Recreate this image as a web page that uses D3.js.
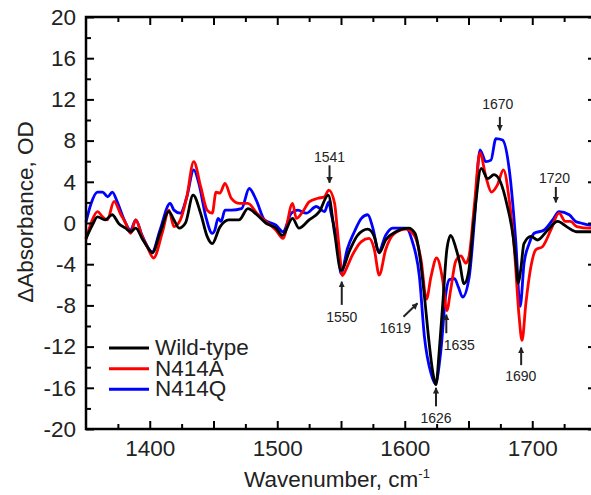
<!DOCTYPE html>
<html>
<head>
<meta charset="utf-8">
<script src="https://cdn.jsdelivr.net/npm/d3@7"></script>
<style>
  body { margin: 0; background: #fff; }
  svg { display: block; font-family: "Liberation Sans", Arial, sans-serif; }
</style>
</head>
<body>
<svg id="chart" width="591" height="495"></svg>
<script>
// data: [wavenumber, delta absorbance]
let wildType = [
  [1350,-1.5],[1355,-0.2],[1359,0.6],[1365,0.3],[1370.5,0.8],[1376,-0.1],[1381,-0.5],[1385,-0.85],
  [1389,-0.5],[1394,-1.5],[1398,-2.3],[1402,-2.9],[1408,-1.0],[1415,1.1],[1419,0.3],[1423,-0.5],
  [1428,0],[1434,2.7],[1440,0.9],[1445,-1.3],[1449,-2.0],[1455,-0.4],[1462,0.3],[1470,0.3],
  [1477,1.4],[1484,0.8],[1491,0],[1499,-0.5],[1504,-1.2],[1512,0.45],[1517,-0.5],[1525,0.3],
  [1533,1.1],[1540,2.7],[1545,-1.0],[1550,-4.6],[1557,-2.6],[1563,-1.2],[1571,-0.6],[1576,-1.3],
  [1580,-2.9],[1585,-1.65],[1593,-0.85],[1603,-0.5],[1608,-1.0],[1612,-3.4],[1615.5,-7.2],
  [1619,-11.5],[1622,-14.5],[1624.5,-15.7],[1627,-12.5],[1630,-7.5],[1633,-2.6],[1636,-1.2],
  [1640,-2.4],[1643,-3.8],[1646.5,-5.9],[1650,-4.8],[1654.5,0.6],[1660,5.3],[1665,4.3],
  [1670,4.7],[1675,4.0],[1680.5,1.6],[1685,-1.3],[1687,-3.5],[1689,-5.85],[1691,-4.5],
  [1693.5,-2.0],[1699,-1.3],[1704,-1.65],[1712,-0.7],[1720,0.15],[1727.5,-0.4],[1735,-0.85],
  [1745,-0.85],[1750,-0.85]
];

let n414a = [
  [1350,-1.6],[1354,0.0],[1359,1.1],[1363,0.6],[1366.7,0.3],[1372,2.1],[1377,0.9],[1381,0],
  [1385,-1.0],[1389,0.3],[1394,-1.3],[1398,-2.3],[1403,-3.4],[1410,-0.85],[1415,1.25],[1419,-0.35],
  [1424,0.3],[1429,2.5],[1434.5,5.95],[1440,3.5],[1445,1.25],[1449,0.95],[1452,3.0],[1455,2.9],
  [1459,3.85],[1464,2.4],[1470.5,1.9],[1477,1.9],[1484,0.95],[1491,0.15],[1499,-0.7],[1504.5,-1.5],
  [1512,1.9],[1515,0.45],[1520,1.1],[1525,2.05],[1532,2.4],[1537,2.55],[1540.5,3.2],[1545,1.9],
  [1547,-0.5],[1549,-3.0],[1551,-5.1],[1555,-4.2],[1559,-3.1],[1566,-1.8],[1572,-1.5],[1576,-2.5],
  [1580,-5.05],[1585,-2.6],[1592,-1.0],[1601,-0.6],[1607.5,-1.2],[1612.8,-3.6],[1617,-7.4],
  [1620.6,-5.2],[1625,-3.4],[1629.7,-5.5],[1633,-8.5],[1636,-6.5],[1640,-3.7],[1644,-3.2],
  [1648,-3.9],[1650.6,-3.1],[1654.5,1.6],[1659,6.8],[1663.6,4.5],[1668,3.0],[1672.7,3.7],
  [1677.4,5.15],[1682,2.2],[1686,-2.6],[1689.7,-9.1],[1692,-11.4],[1695,-7.8],[1699,-4.2],
  [1702.8,-2.6],[1708,-2.3],[1714.5,-0.7],[1721,0.95],[1726,0.15],[1730,0.15],[1735,-0.35],
  [1745,-0.5],[1750,-0.5]
];

let n414q = [
  [1350,0.1],[1354,1.9],[1359,3.0],[1363,3.0],[1367,2.55],[1370.6,3.0],[1374.5,2.05],[1380,0.3],
  [1385,-0.7],[1389,0.3],[1394,-1.2],[1402,-2.8],[1408,-0.7],[1416,1.9],[1419,1.25],[1424,0.95],
  [1429,2.5],[1434.5,5.15],[1438.5,3.85],[1444,0.6],[1449,-1.0],[1451,-0.7],[1453.6,0.45],
  [1456,0.15],[1459,1.25],[1464,1.25],[1472,1.4],[1478,3.35],[1483.6,2.2],[1490,0.3],[1499,-0.2],
  [1504.5,-0.85],[1511,0.95],[1516,1.25],[1522.8,0.95],[1530.6,1.6],[1537,1.1],[1540.5,2.05],
  [1542,1.1],[1547.5,-2.3],[1550,-4.9],[1555,-2.5],[1560.5,-0.85],[1566,0.45],[1571,0.8],
  [1575,-0.5],[1579.6,-2.8],[1585,-1.2],[1590.5,-0.5],[1601,-0.5],[1606,-1.8],[1611.5,-5.2],
  [1615.4,-11.0],[1620.6,-14.6],[1624,-15.6],[1628.4,-12.3],[1632.3,-6.8],[1635,-5.5],[1639,-5.4],
  [1642,-6.2],[1645.4,-7.2],[1650.6,-5.2],[1654.5,0],[1659,7.1],[1663.6,5.95],[1667.6,6.1],
  [1671.5,8.2],[1676.7,8.05],[1682,5.15],[1687,-1.65],[1690.5,-8.1],[1693.6,-3.9],[1697.6,-2.0],
  [1701.5,-1.0],[1709,-0.7],[1716,0.3],[1721,1.1],[1729,0.8],[1734,0.15],[1738,0],[1745,-0.2],
  [1750,-0.2]
];

let seriesNames = ["Wild-type", "N414A", "N414Q"];
let seriesColors = ["#000000", "#ff0000", "#0000ff"];

let xTicksMajor = [1400, 1450, 1500, 1550, 1600, 1650, 1700];
let xTickLabels = [1400, 1500, 1600, 1700];
let xTicksMinor = [1375, 1425, 1475, 1525, 1575, 1625, 1675, 1725];
let yTicksMajor = [-20, -16, -12, -8, -4, 0, 4, 8, 12, 16, 20];
let yTicksMinor = [-18, -14, -10, -6, -2, 2, 6, 10, 14, 18];

// peak labels: text position, arrow tail, arrow tip (data units)
let peakLabels = ["1541", "1550", "1619", "1626", "1635", "1670", "1690", "1720"];
let labelPos = [[1541,5.95],[1550.6,-9.6],[1592.7,-10.7],[1624.5,-19.4],[1642.8,-12.3],[1673,11.1],[1691,-15.3],[1717.5,3.9]];
let arrowTail = [[1541,5.6],[1550.6,-7.95],[1599,-9.1],[1624.5,-17.8],[1632.6,-10.7],[1674.6,10.3],[1691.3,-13.8],[1718.5,3.5]];
let arrowTip = [[1541,3.9],[1550.6,-5.7],[1610,-7.8],[1624.5,-16.0],[1632.6,-8.9],[1674.6,9.0],[1691.3,-12.1],[1718.5,2.0]];

let svg = d3.select("#chart");
let plotLeft = 86, plotRight = 596, plotTop = 17, plotBottom = 429;
let fontSize = 22.5;

let x = d3.scaleLinear().domain([1350, 1750]).range([plotLeft, plotRight]);
let y = d3.scaleLinear().domain([-20, 20]).range([plotBottom, plotTop]);

svg.append("rect").attr("width", 591).attr("height", 495).attr("fill", "#fff");

// data lines
let line = d3.line()
  .x(function(d) { return x(d[0]) })
  .y(function(d) { return y(d[1]) })
  .curve(d3.curveMonotoneX);

let allSeries = [wildType, n414a, n414q];
[2, 1, 0].forEach(function(i) {
  svg.append("path")
    .datum(allSeries[i])
    .attr("fill", "none")
    .attr("stroke", seriesColors[i])
    .attr("stroke-width", 2.8)
    .attr("stroke-linejoin", "round")
    .attr("d", line);
});

// axes, ticks inward
function tickAxis(axis, pos, size, values, fmt) {
  let g = svg.append("g")
    .attr("transform", pos)
    .call(axis.tickValues(values).tickSize(size).tickPadding(fmt ? 11 : 3).tickFormat(fmt || function() { return "" }));
  g.select(".domain").remove();
  g.selectAll("line").attr("stroke", "#000").attr("stroke-width", 2);
  g.selectAll("text").attr("font-size", fontSize).attr("fill", "#222").attr("font-family", "Liberation Sans, Arial, sans-serif");
  return g;
}

tickAxis(d3.axisBottom(x), "translate(0," + plotBottom + ")", -5, xTicksMinor);
tickAxis(d3.axisBottom(x), "translate(0," + plotBottom + ")", -8, xTicksMajor,
  function(d) { return xTickLabels.indexOf(d) >= 0 ? d : "" });
tickAxis(d3.axisTop(x), "translate(0," + plotTop + ")", -5, xTicksMinor);
tickAxis(d3.axisTop(x), "translate(0," + plotTop + ")", -8, xTicksMajor);

let yl = tickAxis(d3.axisLeft(y), "translate(" + plotLeft + ",0)", -8, yTicksMajor, function(d) { return d });
yl.selectAll("text").attr("x", -10);
tickAxis(d3.axisLeft(y), "translate(" + plotLeft + ",0)", -5, yTicksMinor);
tickAxis(d3.axisRight(y), "translate(" + plotRight + ",0)", -8, yTicksMajor);
tickAxis(d3.axisRight(y), "translate(" + plotRight + ",0)", -5, yTicksMinor);

svg.append("rect")
  .attr("x", plotLeft).attr("y", plotTop)
  .attr("width", plotRight - plotLeft).attr("height", plotBottom - plotTop)
  .attr("fill", "none").attr("stroke", "#000").attr("stroke-width", 2.5);

// axis titles
let xt = svg.append("text")
  .attr("x", 337).attr("y", 487)
  .attr("text-anchor", "middle")
  .attr("font-size", fontSize).attr("fill", "#222");
xt.append("tspan").text("Wavenumber, cm");
xt.append("tspan").attr("font-size", 13).attr("dy", -9).text("-1");

svg.append("text")
  .attr("transform", "translate(33,212) rotate(-90)")
  .attr("text-anchor", "middle")
  .attr("font-size", fontSize).attr("fill", "#222")
  .text("\u0394Absorbance, OD");

// legend
let legendY = [-12.0, -14.0, -16.0];
seriesNames.forEach(function(name, i) {
  let ly = y(legendY[i]) + 1.5;
  svg.append("line")
    .attr("x1", 109).attr("x2", 149)
    .attr("y1", ly).attr("y2", ly)
    .attr("stroke", seriesColors[i]).attr("stroke-width", 3);
  svg.append("text")
    .attr("x", 155).attr("y", ly + 7)
    .attr("font-size", fontSize).attr("fill", "#222")
    .text(name);
});

// peak annotations
svg.append("defs").append("marker")
  .attr("id", "head")
  .attr("viewBox", "0 0 10 10")
  .attr("refX", 9).attr("refY", 5)
  .attr("markerWidth", 3.2).attr("markerHeight", 3.2)
  .attr("orient", "auto")
  .append("path").attr("d", "M0,0 L10,5 L0,10 z").attr("fill", "#222");

peakLabels.forEach(function(lab, i) {
  svg.append("line")
    .attr("x1", x(arrowTail[i][0])).attr("y1", y(arrowTail[i][1]))
    .attr("x2", x(arrowTip[i][0])).attr("y2", y(arrowTip[i][1]))
    .attr("stroke", "#222").attr("stroke-width", 2)
    .attr("marker-end", "url(#head)");
  svg.append("text")
    .attr("x", x(labelPos[i][0])).attr("y", y(labelPos[i][1]))
    .attr("text-anchor", "middle")
    .attr("font-size", 14).attr("fill", "#222")
    .text(lab);
});
</script>
</body>
</html>
